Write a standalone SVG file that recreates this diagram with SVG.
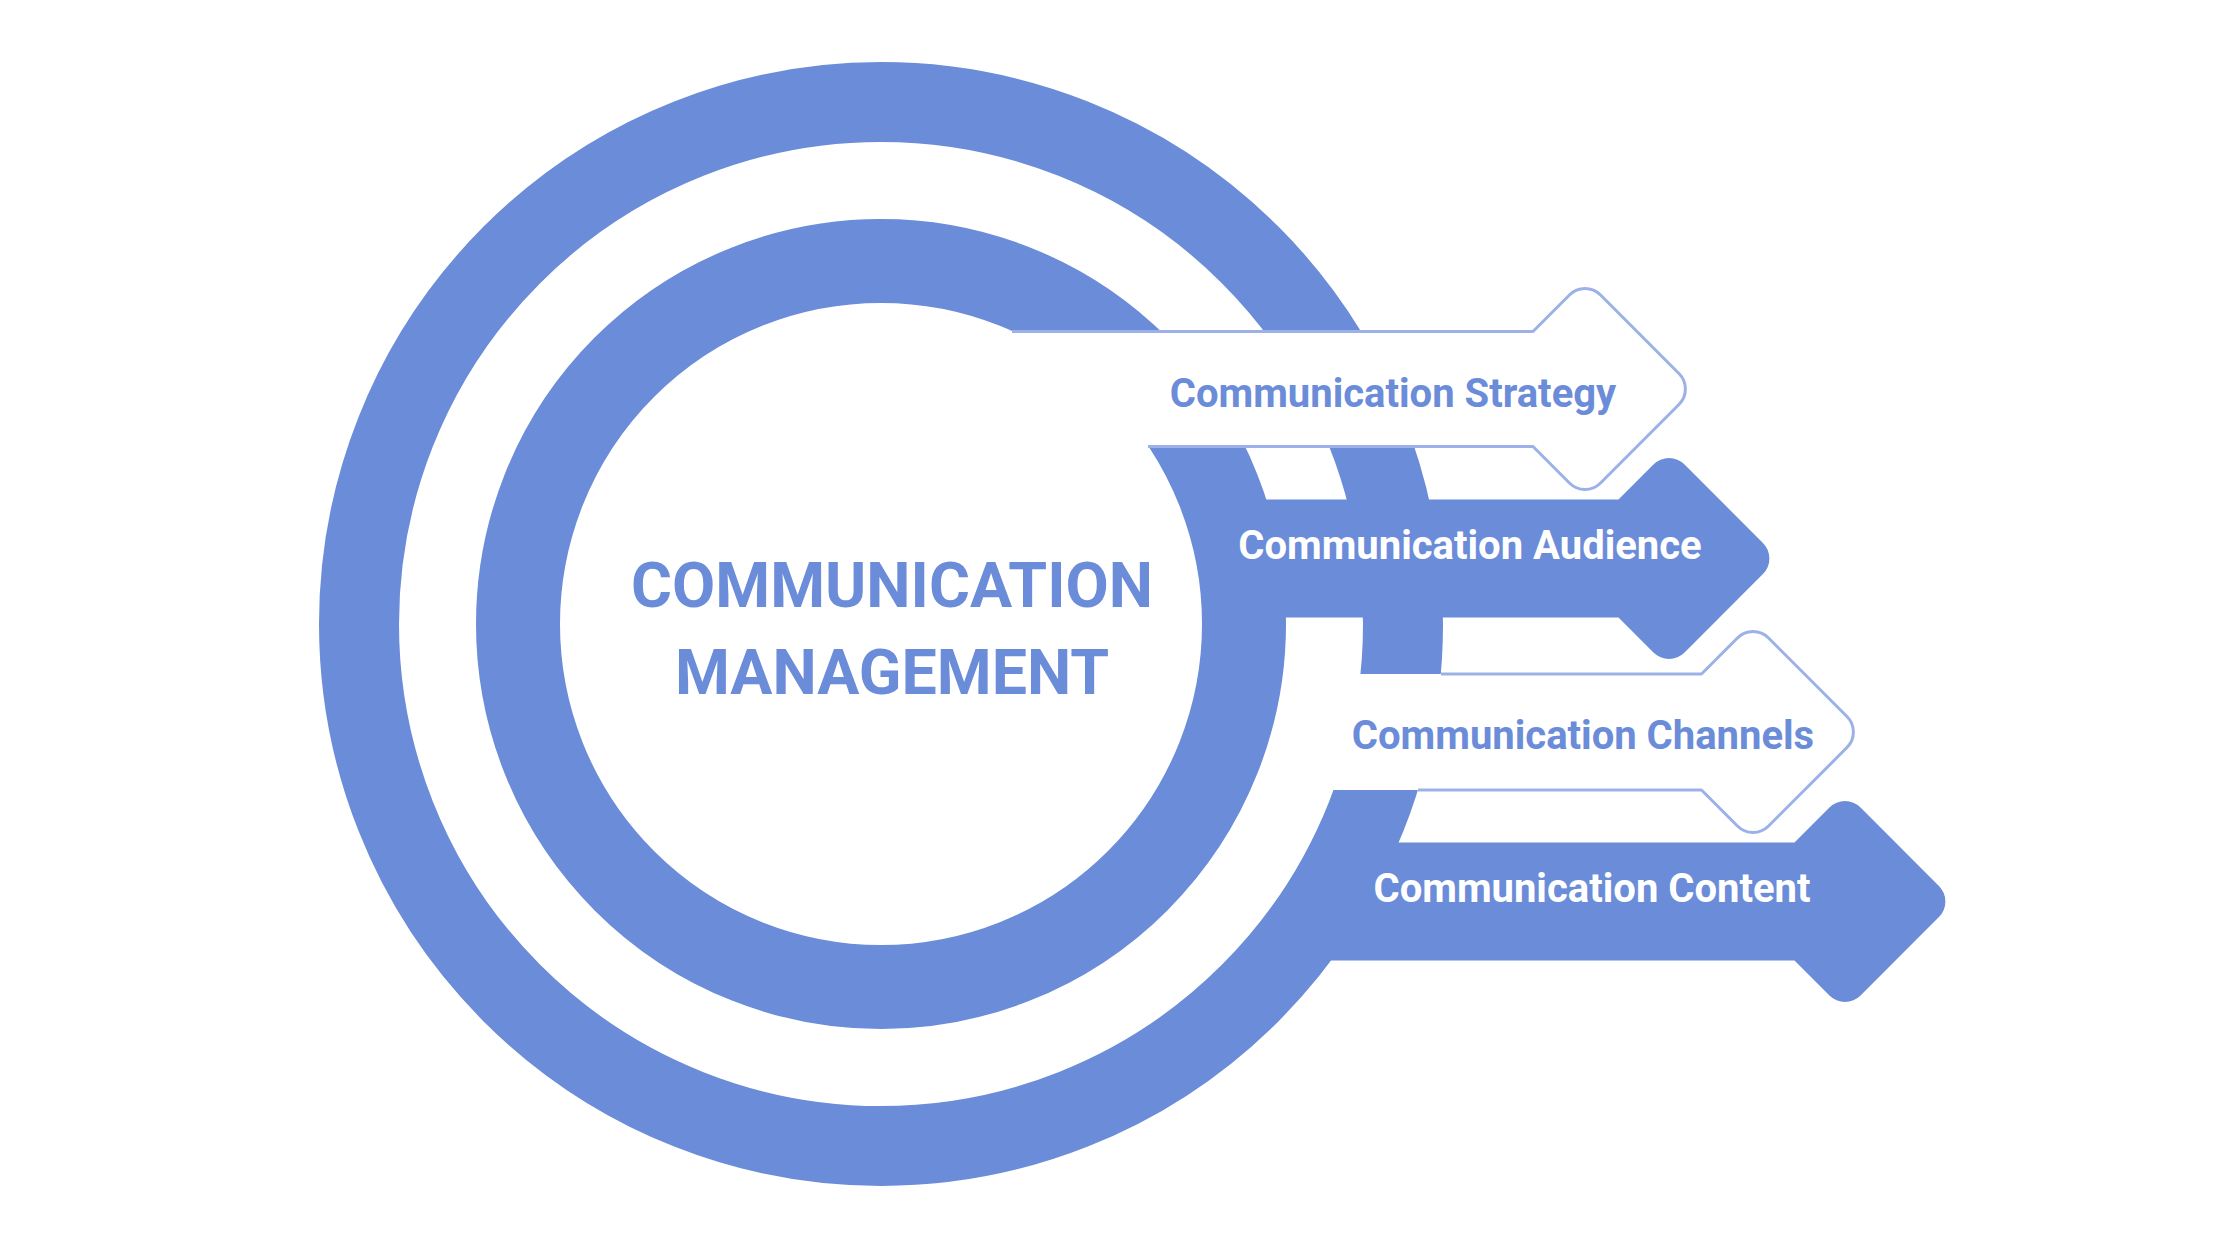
<svg xmlns="http://www.w3.org/2000/svg" width="2240" height="1260" viewBox="0 0 2240 1260">
  <style>
    .ring { fill: none; stroke: #6B8CD8; }
    .blue { fill: #6B8CD8; stroke: none; }
    .whitefill { fill: #FFFFFF; stroke: none; }
    .outline { fill: none; stroke: #9BB1E7; stroke-width: 3; stroke-linejoin: round; }
    .title { font-family: Roboto, "Liberation Sans", sans-serif; font-weight: 700; font-size: 62.7px; fill: #6B8CD8; text-anchor: middle; }
    .label { font-family: Roboto, "Liberation Sans", sans-serif; font-weight: 700; font-size: 40px; text-anchor: middle; }
    .lb { fill: #6B8CD8; }
    .lw { fill: #FFFFFF; }
  </style>
  <rect width="2240" height="1260" fill="#FFFFFF"/>

  <g id="rings">
    <circle class="ring" cx="881" cy="624" r="522" stroke-width="80"/>
    <circle class="ring" cx="881" cy="624" r="363" stroke-width="84"/>
  </g>

  <g id="strategy">
    <path class="whitefill" d="M900,331.5 L1533,331.5 L1569.44,295.06 A22 22 0 0 1 1600.56,295.06 L1678.94,373.44 A22 22 0 0 1 1678.94,404.56 L1600.56,482.94 A22 22 0 0 1 1569.44,482.94 L1533,446.5 L900,446.5 Z"/>
    <path class="outline" d="M1012,331.5 L1533,331.5 L1569.44,295.06 A22 22 0 0 1 1600.56,295.06 L1678.94,373.44 A22 22 0 0 1 1678.94,404.56 L1600.56,482.94 A22 22 0 0 1 1569.44,482.94 L1533,446.5 L1148,446.5"/>
    <text class="label lb" x="1393" y="406.5">Communication Strategy</text>
  </g>

  <g id="audience">
    <path class="blue" d="M1210,499.5 L1618.5,499.5 L1653.44,464.56 A22 22 0 0 1 1684.56,464.56 L1762.94,542.94 A22 22 0 0 1 1762.94,574.06 L1684.56,652.44 A22 22 0 0 1 1653.44,652.44 L1618.5,617.5 L1210,617.5 Z"/>
    <text class="label lw" x="1470" y="559">Communication Audience</text>
  </g>

  <g id="channels">
    <path class="whitefill" d="M1300,674 L1701.5,674 L1737.44,638.06 A22 22 0 0 1 1768.56,638.06 L1846.94,716.44 A22 22 0 0 1 1846.94,747.56 L1768.56,825.94 A22 22 0 0 1 1737.44,825.94 L1701.5,790 L1300,790 Z"/>
    <path class="outline" d="M1441,674 L1701.5,674 L1737.44,638.06 A22 22 0 0 1 1768.56,638.06 L1846.94,716.44 A22 22 0 0 1 1846.94,747.56 L1768.56,825.94 A22 22 0 0 1 1737.44,825.94 L1701.5,790 L1418,790"/>
    <text class="label lb" x="1583" y="749">Communication Channels</text>
  </g>

  <g id="content">
    <path class="blue" d="M1320,842.5 L1794.5,842.5 L1829.44,807.56 A22 22 0 0 1 1860.56,807.56 L1938.94,885.94 A22 22 0 0 1 1938.94,917.06 L1860.56,995.44 A22 22 0 0 1 1829.44,995.44 L1794.5,960.5 L1320,960.5 Z"/>
    <text class="label lw" x="1592" y="902">Communication Content</text>
  </g>

  <g id="center-title">
    <text class="title" x="892" y="607">COMMUNICATION</text>
    <text class="title" x="892" y="694">MANAGEMENT</text>
  </g>

  <g id="connectors"></g>
</svg>
